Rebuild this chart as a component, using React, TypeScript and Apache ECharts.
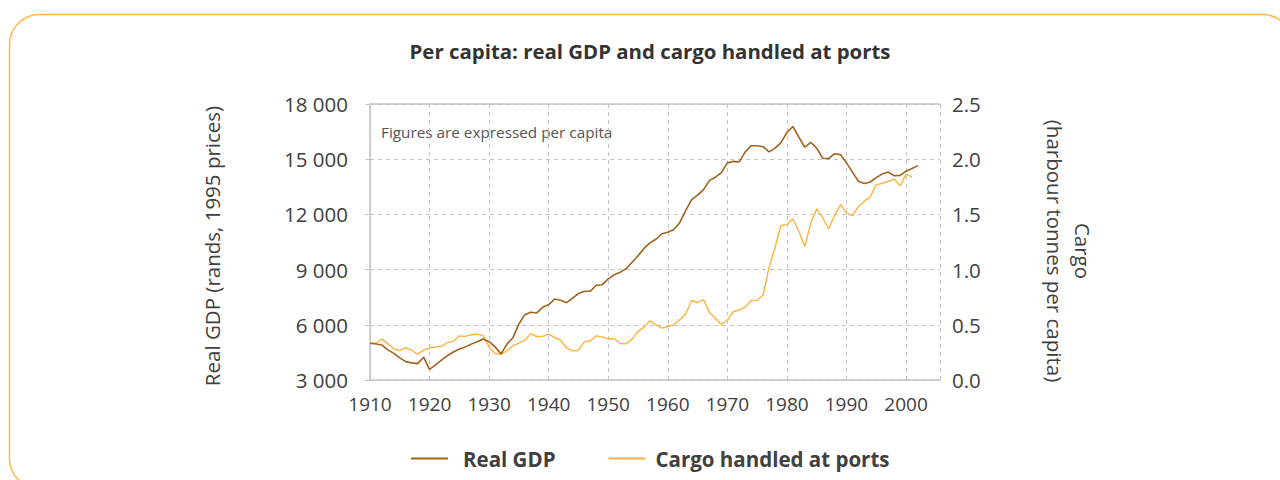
import React, { useEffect, useRef } from "react";
import * as echarts from "echarts";

const years: number[] = [];
for (let y = 1910; y <= 2002; y++) years.push(y);

const gdpValues: number[] = [
  5000, 4960, 4900, 4640, 4450, 4200, 4000, 3930, 3890, 4240,
  3580, 3820, 4080, 4320, 4520, 4680, 4800, 4950, 5080, 5230,
  5080, 4800, 4420, 4950, 5300, 6050, 6550, 6680, 6640, 6950,
  7100, 7400, 7330, 7200, 7450, 7700, 7820, 7830, 8150, 8180,
  8500, 8720, 8850, 9050, 9400, 9750, 10150, 10450, 10650, 10950,
  11030, 11180, 11550, 12200, 12800, 13050, 13350, 13850, 14020, 14270,
  14800, 14880, 14850, 15400, 15730, 15730, 15680, 15400, 15600, 15900,
  16450, 16780, 16200, 15650, 15920, 15600, 15050, 15030, 15300, 15250,
  14800, 14300, 13800, 13680, 13760, 14000, 14200, 14300, 14100, 14120,
  14350, 14500, 14650,
];

const cargoValues: number[] = [
  0.333, 0.333, 0.37, 0.33, 0.28, 0.267, 0.294, 0.27, 0.233, 0.27,
  0.29, 0.3, 0.305, 0.34, 0.35, 0.4, 0.395, 0.41, 0.415, 0.4,
  0.3, 0.24, 0.233, 0.265, 0.31, 0.335, 0.36, 0.42, 0.394, 0.395,
  0.415, 0.385, 0.36, 0.29, 0.264, 0.27, 0.345, 0.355, 0.4, 0.39,
  0.373, 0.373, 0.33, 0.327, 0.37, 0.44, 0.479, 0.536, 0.5, 0.47,
  0.485, 0.5, 0.545, 0.6, 0.72, 0.7, 0.727, 0.61, 0.56, 0.5,
  0.545, 0.618, 0.635, 0.66, 0.72, 0.721, 0.77, 1.02, 1.2, 1.4,
  1.41, 1.46, 1.348, 1.21, 1.42, 1.55, 1.47, 1.37, 1.49, 1.59,
  1.51, 1.49, 1.57, 1.62, 1.66, 1.77, 1.78, 1.8, 1.82, 1.76,
  1.86, 1.84,
];

const gdpTicks = [3000, 6000, 9000, 12000, 15000, 18000];
const cargoTicks = [0, 0.5, 1, 1.5, 2, 2.5];

const TITLE = "Per capita: real GDP and cargo handled at ports";
const NOTE = "Figures are expressed per capita";
const GDP_NAME = "Real GDP";
const CARGO_NAME = "Cargo handled at ports";
const LEFT_AXIS_NAME = "Real GDP (rands, 1995 prices)";
const RIGHT_AXIS_NAME = "Cargo\n(harbour tonnes per capita)";

const FONT = "'Open Sans', 'Noto Sans', sans-serif";
const GDP_COLOR = "#A3611C";
const CARGO_COLOR = "#FFB23E";
const TEXT_COLOR = "#404040";
const GRID_COLOR = "#c4c4c4";

export default function App() {
  const ref = useRef<HTMLDivElement>(null);

  useEffect(() => {
    document.body.style.margin = "0";
    if (!ref.current) return;
    const chart = echarts.init(ref.current, undefined, { renderer: "svg" });

    const gdpData = years.map((y, i) => [y, gdpValues[i]]);
    const cargoData = years.slice(0, cargoValues.length).map((y, i) => [y, cargoValues[i]]);

    const fmtThousands = (v: number) => {
      const s = String(Math.round(v));
      return s.length > 3 ? s.slice(0, s.length - 3) + " " + s.slice(-3) : s;
    };

    const legendText = {
      fontFamily: FONT,
      fontWeight: "bold",
      fontSize: 20.5,
      color: TEXT_COLOR,
    };

    chart.setOption({
      animation: false,
      textStyle: { fontFamily: FONT },
      grid: { left: 370, top: 104, width: 570, height: 276, containLabel: false },
      legend: {
        left: 406,
        top: 443,
        itemWidth: 37,
        itemHeight: 2,
        itemGap: 53,
        icon: "rect",
        textStyle: { ...legendText },
        data: [
          {
            name: GDP_NAME,
            itemStyle: { color: GDP_COLOR },
            textStyle: { ...legendText, padding: [0, 0, 0, 10] },
          },
          {
            name: CARGO_NAME,
            itemStyle: { color: CARGO_COLOR },
            textStyle: { ...legendText, padding: [0, 0, 0, 5] },
          },
        ],
      },
      xAxis: [
        {
          type: "value",
          min: 1910,
          max: 2005.7,
          interval: 10,
          axisLine: { show: true, lineStyle: { color: GRID_COLOR, width: 1.5 } },
          axisTick: { show: false },
          axisLabel: {
            margin: 14,
            fontSize: 19,
            color: TEXT_COLOR,
            fontFamily: FONT,
            formatter: (v: number) => (v % 10 === 0 && v <= 2000 ? String(v) : ""),
            showMaxLabel: false,
          },
          splitLine: { show: true, lineStyle: { color: GRID_COLOR, type: [4, 4] } },
        },
        {
          type: "value",
          position: "top",
          min: 1910,
          max: 2005.7,
          interval: 10,
          axisLine: { show: true, onZero: false, lineStyle: { color: GRID_COLOR, width: 1.5 } },
          axisTick: { show: false },
          axisLabel: { show: false },
          splitLine: { show: false },
        },
      ],
      yAxis: [
        {
          type: "value",
          min: gdpTicks[0],
          max: gdpTicks[gdpTicks.length - 1],
          interval: 3000,
          axisLine: { show: true, lineStyle: { color: GRID_COLOR, width: 1.5 } },
          axisTick: { show: true, length: 5, lineStyle: { color: GRID_COLOR } },
          axisLabel: {
            margin: 22,
            fontSize: 20.5,
            color: TEXT_COLOR,
            fontFamily: FONT,
            formatter: fmtThousands,
          },
          splitLine: { show: true, lineStyle: { color: GRID_COLOR, type: [4, 4] } },
        },
        {
          type: "value",
          min: cargoTicks[0],
          max: cargoTicks[cargoTicks.length - 1],
          interval: 0.5,
          position: "right",
          axisLine: { show: false },
          axisTick: { show: false },
          axisLabel: {
            margin: 12,
            fontSize: 20.5,
            color: TEXT_COLOR,
            fontFamily: FONT,
            formatter: (v: number) => v.toFixed(1),
          },
          splitLine: { show: false },
        },
      ],
      graphic: [
        {
          type: "rect",
          z: -10,
          silent: true,
          shape: { x: 9.5, y: 14.5, width: 1283, height: 474, r: 30 },
          style: { fill: "none", stroke: "#FFB84D", lineWidth: 1.5 },
        },
        {
          type: "text",
          x: 650,
          y: 51,
          style: {
            text: TITLE,
            fill: "#333333",
            font: `bold 20.4px ${FONT}`,
            align: "center",
            verticalAlign: "middle",
          },
        },
        {
          type: "text",
          x: 381,
          y: 132,
          style: {
            text: NOTE,
            fill: "#555555",
            font: `15.3px ${FONT}`,
            align: "left",
            verticalAlign: "middle",
          },
        },
        {
          type: "text",
          x: 212,
          y: 246,
          rotation: Math.PI / 2,
          style: {
            text: LEFT_AXIS_NAME,
            fill: TEXT_COLOR,
            font: `20.5px ${FONT}`,
            align: "center",
            verticalAlign: "middle",
          },
        },
        {
          type: "text",
          x: 1069,
          y: 251,
          rotation: -Math.PI / 2,
          style: {
            text: RIGHT_AXIS_NAME,
            fill: TEXT_COLOR,
            font: `20.5px ${FONT}`,
            lineHeight: 28,
            align: "center",
            verticalAlign: "middle",
          },
        },
      ],
      series: [
        {
          name: GDP_NAME,
          type: "line",
          xAxisIndex: 0,
          yAxisIndex: 0,
          data: gdpData,
          showSymbol: false,
          symbol: "none",
          lineStyle: { color: GDP_COLOR, width: 1.6 },
          itemStyle: { color: GDP_COLOR },
          z: 3,
        },
        {
          name: CARGO_NAME,
          type: "line",
          xAxisIndex: 0,
          yAxisIndex: 1,
          data: cargoData,
          showSymbol: false,
          symbol: "none",
          lineStyle: { color: CARGO_COLOR, width: 1.4 },
          itemStyle: { color: CARGO_COLOR },
          z: 2,
        },
      ],
    });

    return () => chart.dispose();
  }, []);

  return <div ref={ref} style={{ width: 1280, height: 480 }} />;
}
